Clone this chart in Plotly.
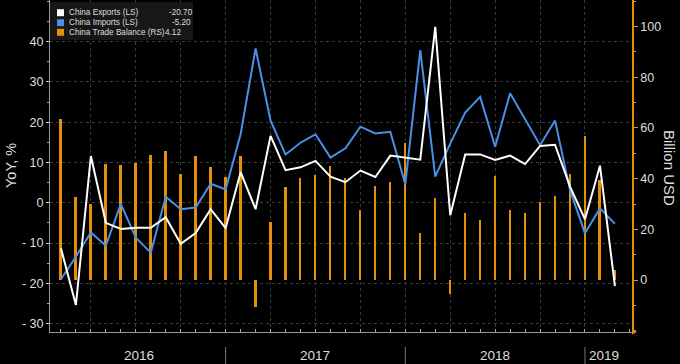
import plotly.graph_objects as go

# ---------------- data ----------------
months = [f"{y}-{m:02d}" for y in (2016, 2017, 2018) for m in range(1, 13)] + ["2019-01", "2019-02"]

exports = [-11.3, -25.4, 11.6, -5.0, -6.5, -6.2, -6.2, -3.6, -10.2, -7.5, -1.6, -6.3,
           7.6, -1.6, 16.6, 8.1, 8.8, 10.4, 6.5, 5.1, 8.0, 6.4, 11.7, 11.2,
           10.7, 43.7, -3.1, 12.0, 12.0, 10.6, 11.7, 9.6, 14.1, 14.4, 4.0, -4.1,
           9.2, -20.7]

imports = [-19.0, -13.4, -7.4, -10.7, -0.3, -8.7, -12.4, 1.5, -1.6, -1.2, 4.7, 3.3,
           17.0, 38.3, 20.4, 12.0, 14.9, 17.0, 11.2, 13.5, 18.9, 17.2, 17.6, 4.6,
           37.9, 6.5, 14.7, 22.4, 26.3, 13.9, 27.2, 20.8, 14.3, 20.4, 3.2, -7.6,
           -1.4, -5.2]

balance = [63.6, 32.8, 29.9, 45.8, 45.4, 46.2, 49.2, 50.9, 41.8, 49.1, 44.6, 40.8,
           49.1, -10.5, 23.0, 36.8, 40.1, 41.5, 45.0, 40.1, 27.6, 37.1, 38.7, 54.0,
           18.7, 32.5, -5.5, 26.6, 23.7, 41.1, 27.6, 26.6, 30.7, 33.2, 41.8, 56.8,
           39.5, 4.12]

years = ["2016", "2017", "2018", "2019"]
year_label_pos = [5.2, 17.0, 29.0, 36.3]
year_breaks = [11, 23, 35]
quarter_grid = list(range(2, 38, 3))

left_ticks = [-30, -20, -10, 0, 10, 20, 30, 40]
left_ticktext = ["- 30", "- 20", "- 10", "0", "10", "20", "30", "40"]
right_ticks = [0, 20, 40, 60, 80, 100]

legend_names = ["China Exports (LS)", "China Imports (LS)", "China Trade Balance (RS)"]
legend_values = ["-20.70", "-5.20", "4.12"]

# ---------------- styles ----------------
WHITE = "#ffffff"
BLUE = "#4a8fe8"
ORANGE = "#e3900b"
TXT = "#dedede"
FONT = "Liberation Sans, Arial, sans-serif"

W, H = 680, 364
ML, MR, MT, MB = 50, 48, 0, 32
PW, PH = W - ML - MR, H - MT - MB


def px2x(px):
    return (px - ML) / PW


def py2y(py):
    return 1 - (py - MT) / PH


x = list(range(len(months)))

fig = go.Figure()
fig.add_trace(go.Bar(x=x, y=balance, width=0.13, marker=dict(color=ORANGE, line=dict(width=0)),
                     yaxis="y", name="China Trade Balance (RS)", hoverinfo="skip"))
fig.add_trace(go.Scatter(x=x, y=imports, mode="lines", line=dict(color=BLUE, width=2),
                         yaxis="y2", name="China Imports (LS)"))
fig.add_trace(go.Scatter(x=x, y=exports, mode="lines", line=dict(color=WHITE, width=2),
                         yaxis="y2", name="China Exports (LS)"))

shapes = []
annotations = []

# year separators
for b in year_breaks:
    shapes.append(dict(type="line", xref="x", yref="paper", x0=b, x1=b,
                       y0=py2y(347), y1=py2y(364), line=dict(color="#777777", width=1)))
for yl, pos in zip(years, year_label_pos):
    annotations.append(dict(text=yl, x=pos, xref="x", y=py2y(355), yref="paper",
                            showarrow=False, xanchor="center", yanchor="middle",
                            font=dict(family=FONT, size=13.5, color=TXT)))

# custom legend
shapes.append(dict(type="rect", xref="paper", yref="paper", x0=px2x(50), x1=px2x(193),
                   y0=py2y(40), y1=py2y(2), fillcolor="#171717", line=dict(width=0), layer="above"))
rows = [12.7, 22.7, 32.3]
cols = [WHITE, BLUE, ORANGE]
val_x = [167, 170, 163]
for name, val, ry, c, vx in zip(legend_names, legend_values, rows, cols, val_x):
    shapes.append(dict(type="rect", xref="paper", yref="paper", x0=px2x(57), x1=px2x(64),
                       y0=py2y(ry + 3.5), y1=py2y(ry - 3.5), fillcolor=c, line=dict(width=0), layer="above"))
    annotations.append(dict(text=name, x=px2x(66.5), xref="paper", y=py2y(ry), yref="paper",
                            showarrow=False, xanchor="left", yanchor="middle",
                            font=dict(family=FONT, size=8.2, color=TXT)))
    annotations.append(dict(text=val, x=px2x(vx), xref="paper", y=py2y(ry), yref="paper",
                            showarrow=False, xanchor="left", yanchor="middle",
                            font=dict(family=FONT, size=8.2, color=TXT)))

# axis titles
annotations.append(dict(text="YoY, %", x=px2x(11), xref="paper", y=py2y(166), yref="paper",
                        showarrow=False, textangle=-90, xanchor="center", yanchor="middle",
                        font=dict(family=FONT, size=14.5, color=TXT)))
annotations.append(dict(text="Billion USD", x=px2x(670), xref="paper", y=py2y(168), yref="paper",
                        showarrow=False, textangle=90, xanchor="center", yanchor="middle",
                        font=dict(family=FONT, size=15, color=TXT)))

# right axis arrow
shapes.append(dict(type="path", xref="paper", yref="paper",
                   path=f"M {px2x(632)} {py2y(329.5)} L {px2x(637)} {py2y(332)} L {px2x(632)} {py2y(334.5)} Z",
                   fillcolor=ORANGE, line=dict(width=0)))

fig.update_layout(
    width=W, height=H,
    margin=dict(l=ML, r=MR, t=MT, b=MB, pad=0),
    paper_bgcolor="#000000", plot_bgcolor="#000000",
    showlegend=False, bargap=0,
    font=dict(family=FONT, color=TXT, size=13),
    xaxis=dict(range=[-0.73, 38.14], tickmode="array", tickvals=quarter_grid,
               showticklabels=False, showgrid=True, gridcolor="#3a3a3a", griddash="dot", gridwidth=1,
               ticks="inside", ticklen=3, tickcolor="#aaaaaa",
               minor=dict(tickmode="linear", tick0=0, dtick=1, ticks="inside", ticklen=3,
                          tickcolor="#aaaaaa", showgrid=False),
               showline=True, linecolor="#999999", linewidth=1, zeroline=False, fixedrange=True),
    yaxis=dict(side="right", range=[-20.5, 110.5], tickmode="array", tickvals=right_ticks,
               ticks="outside", ticklen=4, tickcolor=ORANGE, tickwidth=1,
               minor=dict(tickmode="linear", tick0=0, dtick=10, ticks="outside", ticklen=2, tickcolor=ORANGE),
               showline=True, linecolor=ORANGE, linewidth=1.5, showgrid=False, zeroline=False,
               tickfont=dict(family=FONT, size=12.5, color=TXT)),
    yaxis2=dict(side="left", overlaying="y", range=[-32.1, 50.35], tickmode="array",
                tickvals=left_ticks, ticktext=left_ticktext,
                ticks="outside", ticklen=3, tickcolor="#cccccc",
                minor=dict(tickmode="linear", tick0=-30, dtick=5, ticks="outside", ticklen=2, tickcolor="#aaaaaa"),
                showline=True, linecolor="#999999", linewidth=1,
                showgrid=True, gridcolor="#3a3a3a", griddash="dot", gridwidth=1, zeroline=False,
                tickfont=dict(family=FONT, size=12.5, color=TXT)),
    shapes=shapes, annotations=annotations,
)

fig.write_html("out.html", config={"displayModeBar": False},
               post_script="document.body.style.margin='0';document.body.style.background='#000';")
